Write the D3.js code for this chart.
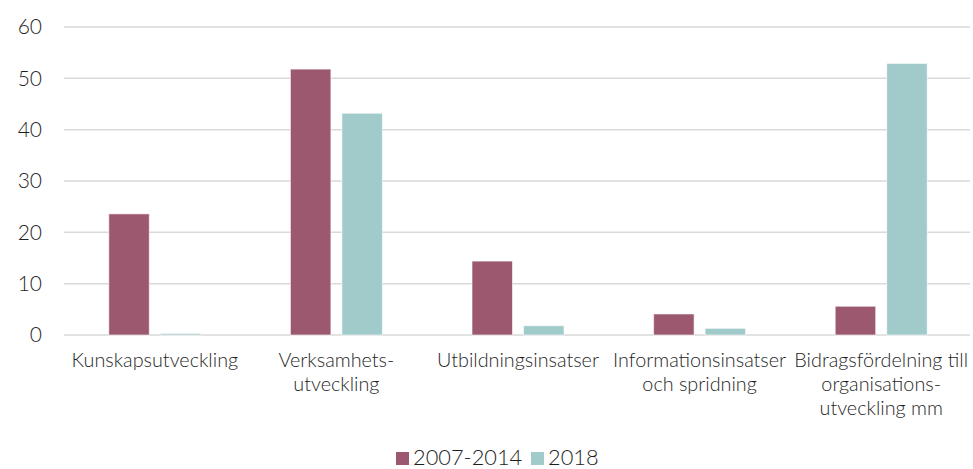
<!DOCTYPE html>
<html>
<head>
<meta charset="utf-8">
<script src="https://cdn.jsdelivr.net/npm/d3@7"></script>
<style>
  html, body { margin: 0; padding: 0; background: #fff; }
  svg text { font-family: Lato, "Open Sans", sans-serif; font-weight: 300; fill: #1f1f1f; }
</style>
</head>
<body>
<svg id="chart" width="973" height="469"></svg>
<script>
const categories = [
  ["Kunskapsutveckling"],
  ["Verksamhets-", "utveckling"],
  ["Utbildningsinsatser"],
  ["Informationsinsatser", "och spridning"],
  ["Bidragsfördelning till", "organisations-", "utveckling mm"]
];
const seriesNames = ["2007-2014", "2018"];
const values2007_2014 = [23.6, 51.8, 14.4, 4.1, 5.6];
const values2018 = [0.3, 43.2, 1.8, 1.3, 52.9];
const yTicks = [0, 10, 20, 30, 40, 50, 60];
const colors = ["#9c586f", "#a1caca"];

const svg = d3.select("#chart");
const margin = {left: 64, right: 1, top: 27, bottom: 134};
const W = 973, H = 469;

const x0 = d3.scaleBand()
  .domain(d3.range(categories.length))
  .range([margin.left, W - margin.right])
  .padding(0);
const x1 = d3.scaleBand()
  .domain(seriesNames)
  .range([0, x0.bandwidth()])
  .paddingInner(0.214)
  .paddingOuter(0.87);
const y = d3.scaleLinear().domain([0, 60]).range([H - margin.bottom, margin.top]);

// gridlines
svg.append("g")
  .selectAll("line")
  .data(yTicks)
  .join("line")
  .attr("x1", margin.left)
  .attr("x2", W - margin.right - 2)
  .attr("y1", d => y(d))
  .attr("y2", d => y(d))
  .attr("stroke", "#d9d9d9")
  .attr("stroke-width", 1.5);

// y axis labels
const yAxis = d3.axisLeft(y).tickValues(yTicks).tickSize(0).tickPadding(0);
const gy = svg.append("g").attr("transform", `translate(${42},0)`).call(yAxis);
gy.select(".domain").remove();
gy.selectAll("text")
  .attr("font-size", 21)
  .attr("font-family", "Lato, sans-serif")
  .attr("font-weight", 300)
  .style("fill", "#1f1f1f");

// bars
const data = categories.map((c, i) => ({
  i,
  vals: [
    {s: seriesNames[0], v: values2007_2014[i], c: colors[0]},
    {s: seriesNames[1], v: values2018[i], c: colors[1]}
  ]
}));

const groups = svg.append("g").selectAll("g")
  .data(data)
  .join("g")
  .attr("transform", d => `translate(${x0(d.i)},0)`);

groups.selectAll("rect")
  .data(d => d.vals)
  .join("rect")
  .attr("x", d => x1(d.s))
  .attr("width", x1.bandwidth())
  .attr("y", d => y(d.v))
  .attr("height", d => y(0) - y(d.v))
  .attr("fill", d => d.c)
  .attr("stroke", "#ffffff")
  .attr("stroke-opacity", 0.6)
  .attr("stroke-width", 1);

// category labels
const labels = svg.append("g").selectAll("text")
  .data(categories)
  .join("text")
  .attr("text-anchor", "middle")
  .attr("font-size", 19.8)
  .attr("x", (d, i) => x0(i) + x0.bandwidth() / 2)
  .attr("y", 367);
labels.selectAll("tspan")
  .data(d => d)
  .join("tspan")
  .attr("x", function() { return d3.select(this.parentNode).attr("x"); })
  .attr("dy", (d, j) => j === 0 ? 0 : 23.8)
  .text(d => d);

// legend
const legend = svg.append("g");
const legendItems = [
  {name: seriesNames[0], color: colors[0], x: 396},
  {name: seriesNames[1], color: colors[1], x: 531}
];
legendItems.forEach(it => {
  legend.append("rect")
    .attr("x", it.x).attr("y", 452)
    .attr("width", 13).attr("height", 13)
    .attr("fill", it.color);
  legend.append("text")
    .attr("x", it.x + 17).attr("y", 465)
    .attr("font-size", 21.8)
    .text(it.name);
});
</script>
</body>
</html>
